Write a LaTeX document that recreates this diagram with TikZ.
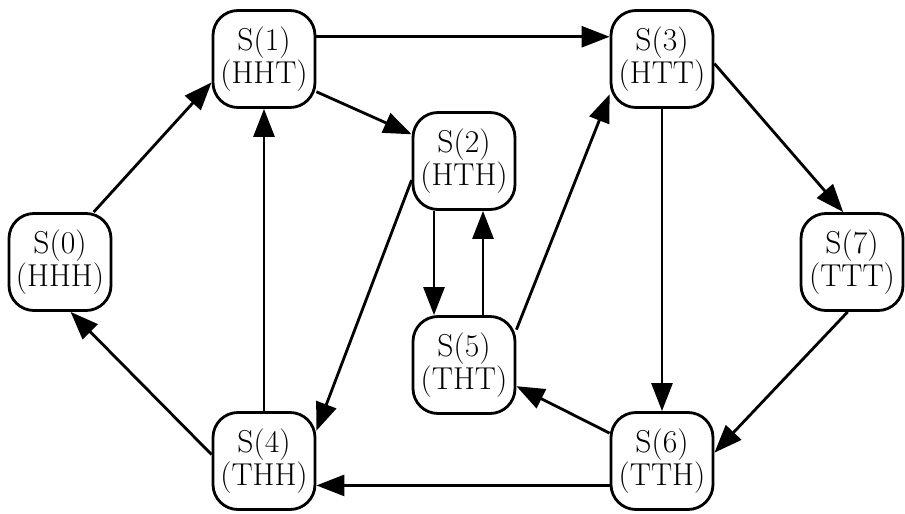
\documentclass[tikz,border=0pt]{standalone}
\usepackage{tikz}
\usetikzlibrary{arrows.meta}

\begin{document}
\begin{tikzpicture}[scale=0.2]
\tikzstyle{every node}+=[inner sep=0pt]
\tikzstyle{statebox}=[draw=black, line width=1.6pt, rounded corners=0.5cm, minimum width=2.04cm, minimum height=1.94cm, align=center, font=\fontsize{18}{18.5}\selectfont]
\tikzstyle{trans}=[draw=black, line width=1.6pt, -{Triangle[length=0.56cm,width=0.42cm]}]
\useasboundingbox (0,0) rectangle (90.5,-51.3);
% the eight states
\node [statebox] (s0) at (6.0,-26.2) {S(0)\\(HHH)};
\node [statebox] (s1) at (26.4,-5.9) {S(1)\\(HHT)};
\node [statebox] (s2) at (46.4,-16.1) {S(2)\\(HTH)};
\node [statebox] (s3) at (66.2,-5.9) {S(3)\\(HTT)};
\node [statebox] (s4) at (26.4,-46.1) {S(4)\\(THH)};
\node [statebox] (s5) at (46.4,-36.5) {S(5)\\(THT)};
\node [statebox] (s6) at (66.2,-46.1) {S(6)\\(TTH)};
\node [statebox] (s7) at (85.2,-26.2) {S(7)\\(TTT)};
% transitions
\draw [trans] (s0.56) -- (s1.204);
\draw [trans] (s1.23) -- (s3.157);
\draw [trans] (s1.-32) -- (s2.153);
\draw [trans] (s2.200) -- (s4.30);
\draw [trans] (s4.north) -- (s1.south);
\draw [trans] (s4.173) -- (s0.-78);
\draw [trans] ([xshift=-3cm]s2.south) -- ([xshift=-3cm]s5.north);
\draw [trans] ([xshift=1.9cm]s5.north) -- ([xshift=1.9cm]s2.south);
\draw [trans] (s5.34) -- (s3.214);
\draw [trans] (s3.south) -- (s6.north);
\draw [trans] (s3.-5) -- (s7.100);
\draw [trans] (s7.-95) -- (s6.9);
\draw [trans] (s6.152) -- (s5.-22);
\draw [trans] (s6.205) -- (s4.-25);
\end{tikzpicture}
\end{document}
